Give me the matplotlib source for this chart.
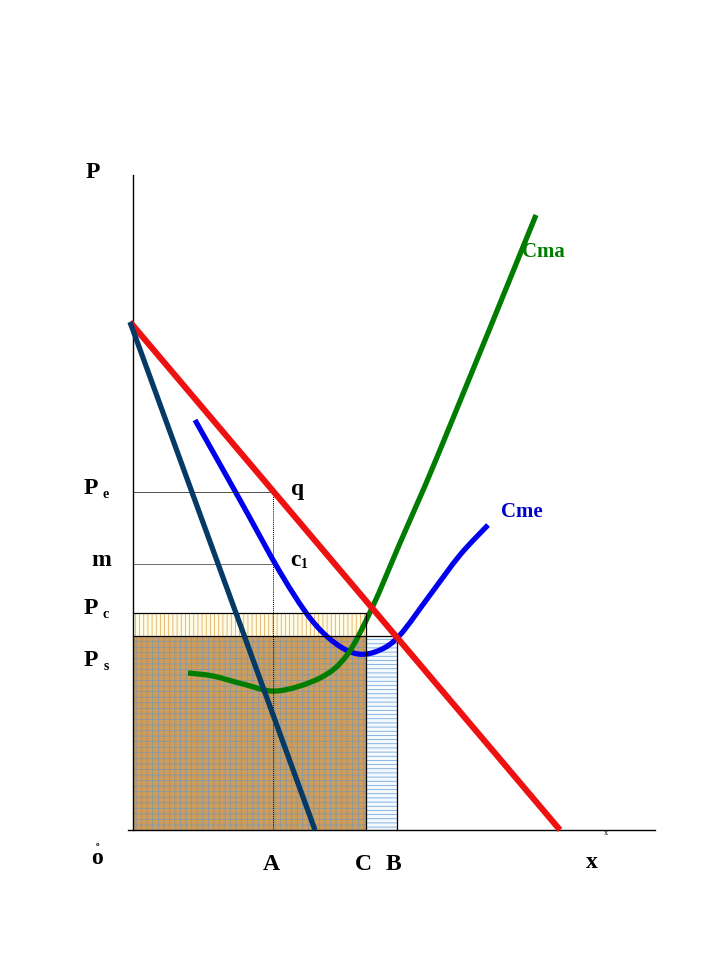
import numpy as np
import matplotlib.pyplot as plt
from matplotlib.patches import Rectangle, PathPatch
from matplotlib.path import Path

# price levels and quantities (origin at bottom-left of the axes)
p_e, p_m, p_c, p_s = 338, 266, 217, 194
q_a, q_c, q_b = 140, 233, 264

# demand and marginal revenue (straight lines)
dem_x = [-3, 427]
dem_y = [508, 0]
img_x = [-3, 182]
img_y = [508, 0]

# average cost (Cme)
cme_x = [62, 107, 147, 177, 202, 225, 247, 267, 297, 327, 355]
cme_y = [410, 330, 258, 212, 187, 176, 180, 195, 235, 275, 305]

# marginal cost (Cma)
cma_x = [55, 80, 110, 144, 187, 214, 239, 267, 307, 403]
cma_y = [157, 154, 146, 139, 152, 175, 222, 287, 380, 615]


def smooth(xs, ys):
    # catmull-rom through the points, drawn as cubic bezier segments
    pts = np.column_stack([xs, ys]).astype(float)
    verts = [pts[0]]
    codes = [Path.MOVETO]
    n = len(pts)
    for i in range(n - 1):
        p0 = pts[i - 1] if i > 0 else pts[i]
        p1, p2 = pts[i], pts[i + 1]
        p3 = pts[i + 2] if i + 2 < n else pts[i + 1]
        verts += [p1 + (p2 - p0) / 6, p2 - (p3 - p1) / 6, p2]
        codes += [Path.CURVE4] * 3
    return Path(verts, codes)


plt.rcParams['font.family'] = ['Liberation Serif', 'DejaVu Serif']
plt.rcParams['font.weight'] = 'bold'
plt.rcParams['hatch.linewidth'] = 0.5

fig = plt.figure(figsize=(7.2, 9.6), dpi=100)
ax = fig.add_axes([0, 0, 1, 1])
ax.set_xlim(-133, 587)
ax.set_ylim(-130, 830)
ax.axis('off')

# shaded areas
ax.add_patch(Rectangle((0, p_s), q_c, p_c - p_s, facecolor='#fffbe6',
                       edgecolor='#dca24a', hatch='||||', lw=0))
ax.add_patch(Rectangle((0, 0), q_c, p_s, facecolor='#cc9d5c',
                       edgecolor='#7f97ad', hatch='+++', lw=0))
ax.add_patch(Rectangle((q_c, 0), q_b - q_c, p_s, facecolor='#f4f9ff',
                       edgecolor='#5f9bd2', hatch='----', lw=0))

# borders
ax.plot([0, q_c, q_c], [p_c, p_c, 0], color='black', lw=0.9)
ax.plot([0, q_b, q_b], [p_s, p_s, 0], color='black', lw=0.9)
ax.plot([0, q_a], [p_e, p_e], color='#333333', lw=0.6)
ax.plot([0, q_a], [p_m, p_m], color='#555555', lw=0.6)
ax.plot([q_a, q_a], [0, p_e], color='black', lw=0.7, ls=(0, (1, 1)))

# axes
ax.plot([0, 0], [0, 655], color='black', lw=1.0)
ax.plot([-5, 522], [0, 0], color='black', lw=1.0)

# curves
ax.plot(dem_x, dem_y, color='#ee1111', lw=4.4, solid_capstyle='butt')
ax.plot(img_x, img_y, color='#053a66', lw=3.8, solid_capstyle='butt')
ax.add_patch(PathPatch(smooth(cme_x, cme_y), fill=False, edgecolor='#0000ee',
                       lw=3.8, capstyle='butt'))
ax.add_patch(PathPatch(smooth(cma_x, cma_y), fill=False, edgecolor='#007d00',
                       lw=3.8, capstyle='butt'))

# labels
big = 17
sub = 10
ax.text(-40, 657, 'P', fontsize=big, ha='center', va='center')
for y, s in [(p_e, 'e'), (p_c, 'c'), (p_s, 's')]:
    yy = y + 4 if s != 's' else y - 24
    ax.text(-42, yy, 'P', fontsize=big, ha='center', va='center')
    ax.text(-27, yy - 6, s, fontsize=sub, ha='center', va='center')
ax.text(-32, p_m + 3, 'm', fontsize=big, ha='center', va='center')
ax.text(165, p_e + 2, 'q', fontsize=big, ha='center', va='center')
ax.text(162, p_m + 4, 'c', fontsize=big, ha='center', va='center')
ax.text(171, p_m - 1, '1', fontsize=sub, ha='center', va='center')
ax.text(-36, -29, 'o', fontsize=big, ha='center', va='center')
ax.text(-36, -15, 'o', fontsize=5, ha='center', va='center')
ax.text(138, -35, 'A', fontsize=big, ha='center', va='center')
ax.text(230, -35, 'C', fontsize=big, ha='center', va='center')
ax.text(260, -35, 'B', fontsize=big, ha='center', va='center')
ax.text(459, -32, 'x', fontsize=big, ha='center', va='center')
ax.text(473, -3, 'x', fontsize=6, ha='center', va='center', fontweight='normal')
ax.text(410, 578, 'Cma', fontsize=15, color='#007d00', ha='center', va='center')
ax.text(389, 318, 'Cme', fontsize=15, color='#0000cc', ha='center', va='center')

fig.savefig('out.png', dpi=100)
